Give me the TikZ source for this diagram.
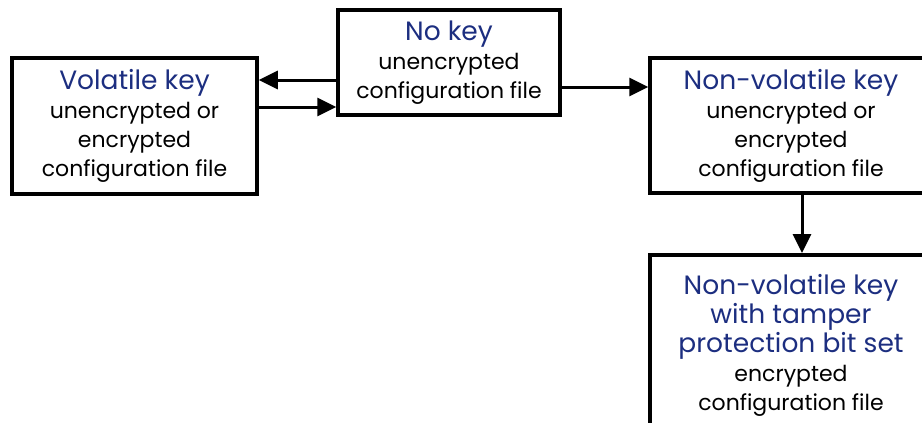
\documentclass[tikz,border=0pt]{standalone}
\usepackage{fontspec}
\setmainfont{Poppins}
\usetikzlibrary{arrows.meta,positioning}
\definecolor{keyblue}{RGB}{28,46,128}
\tikzset{
  box/.style={draw,line width=3.5pt,align=center,inner sep=0pt,font=\fontsize{22}{29}\selectfont},
  arr/.style={-{Triangle[length=19pt,width=18pt]},line width=3pt}
}
\newcommand{\hd}[1]{{\color{keyblue}\fontsize{26.5}{29}\selectfont #1}}

\begin{document}
\begin{tikzpicture}[x=1pt,y=-1pt]
\useasboundingbox (0,0) rectangle (922,423);
\clip (0,0) rectangle (922,423);
\node[box,minimum width=245pt,minimum height=136pt] (vol) at (134.5,126) {\hd{Volatile key}\\unencrypted or\\encrypted\\configuration file};
\node[box,minimum width=222pt,minimum height=105pt] (nokey) at (449,62.5) {\hd{No key}\\unencrypted\\configuration file};
\node[box,minimum width=282pt,minimum height=135pt] (nonvol) at (791,125.5) {\hd{Non-volatile key}\\unencrypted or\\encrypted\\configuration file};
\node[box,minimum width=282pt,minimum height=182pt,anchor=north] (tamper) at (791,253) {\hd{Non-volatile key}\\\hd{with tamper}\\\hd{protection bit set}\\encrypted\\configuration file};
\draw[arr] (nokey.west |- 0,80) -- (vol.east |- 0,80);
\draw[arr] (vol.east |- 0,107) -- (nokey.west |- 0,107);
\draw[arr] (nokey.east |- 0,87) -- (nonvol.west |- 0,87);
\draw[arr] (nonvol.south -| 802,0) -- (tamper.north -| 802,0);
\end{tikzpicture}
\end{document}
